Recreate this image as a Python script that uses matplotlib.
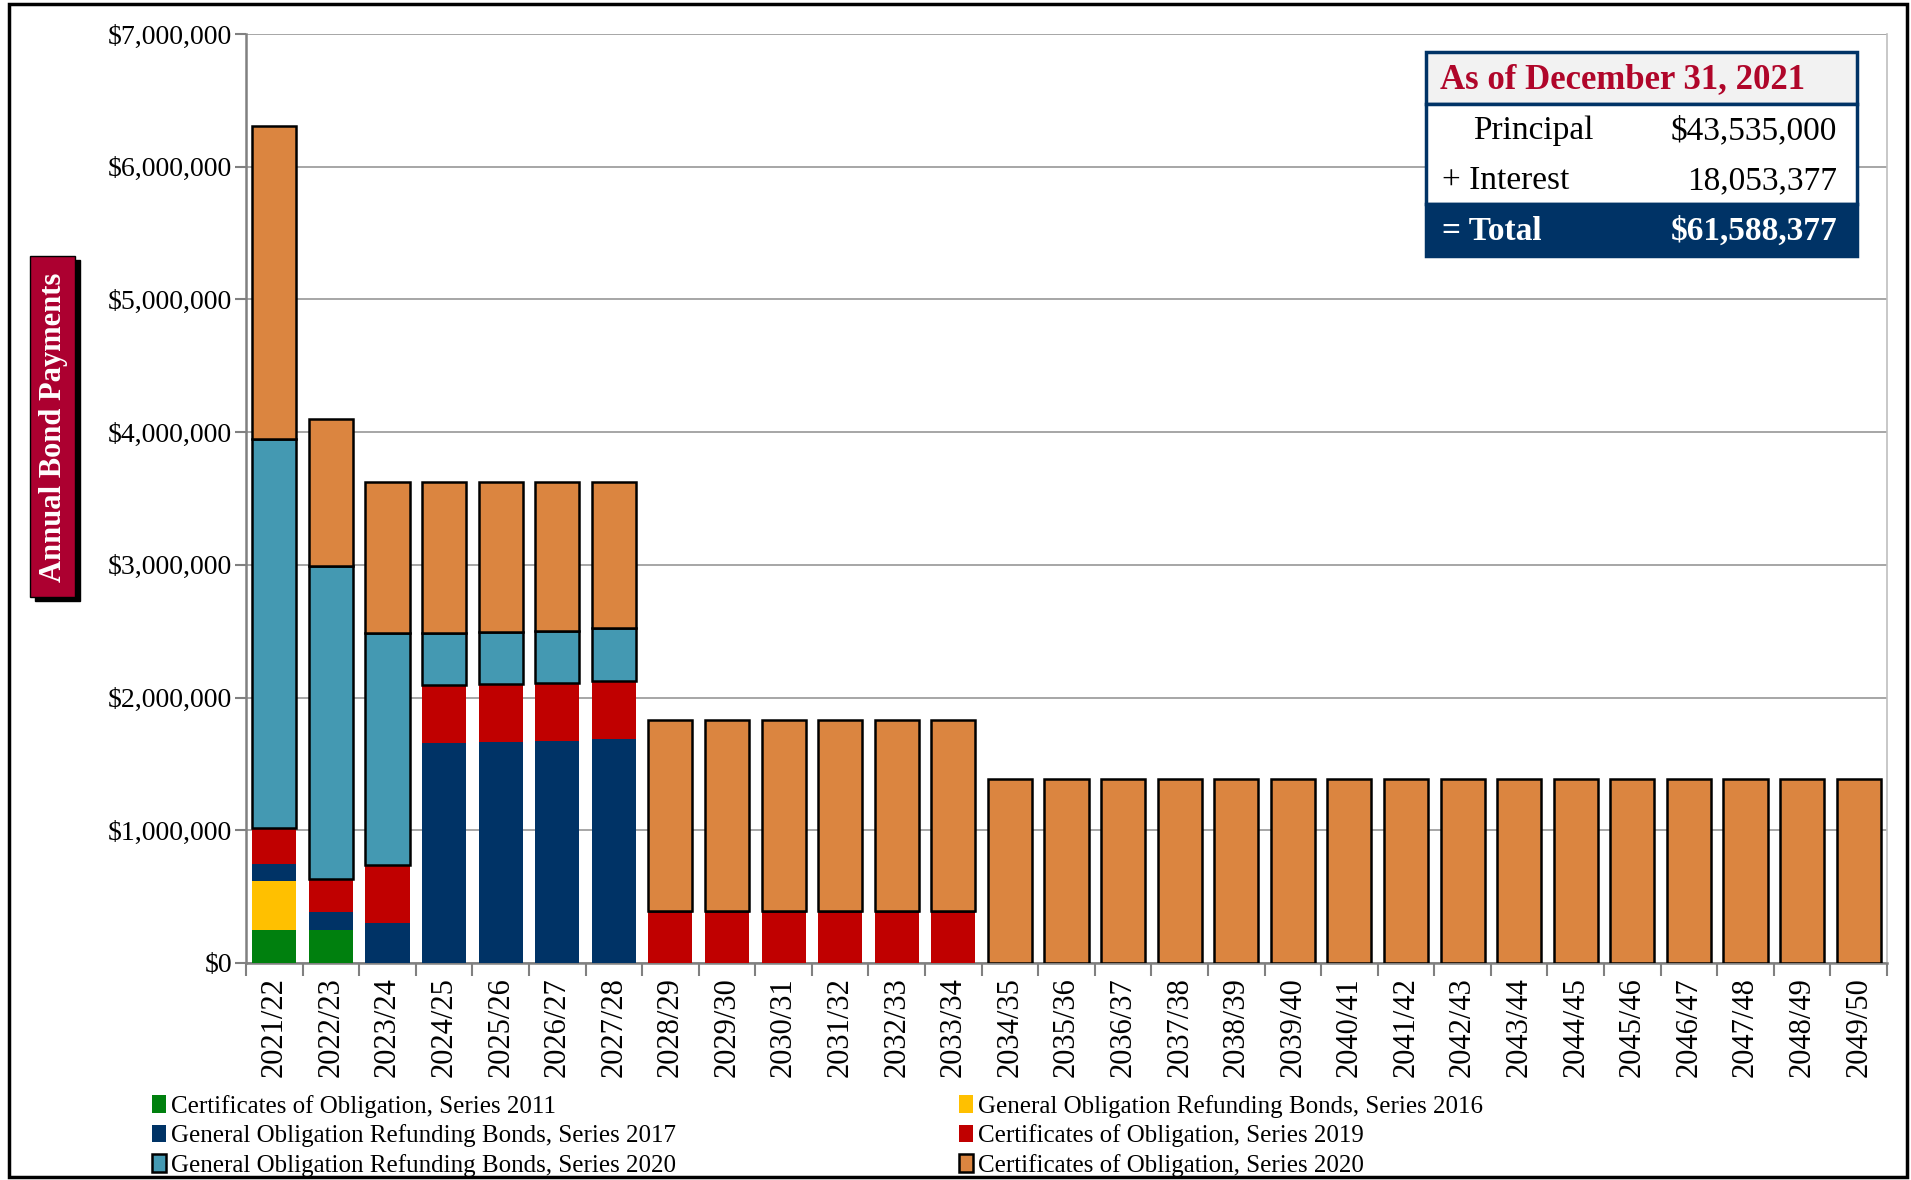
import matplotlib.pyplot as plt
from matplotlib.patches import Rectangle
from matplotlib.ticker import FuncFormatter, FixedLocator

plt.rcParams['font.family'] = ['Liberation Serif', 'DejaVu Serif']

# data (dollars)
years = [f"{y}/{str(y + 1)[-2:]}" for y in range(2021, 2050)]

co_2011 = [245000, 248000] + [0] * 27
go_2016 = [370000] + [0] * 28
go_2017 = [134000, 134000, 304000, 1654000, 1668000, 1676000, 1685000] + [0] * 22
co_2019 = [265000, 254000, 438000, 438000, 435000, 436000, 443000] + [395000] * 6 + [0] * 16
go_2020 = [2935000, 2354000, 1744000, 396000, 394000, 393000, 394000] + [0] * 22
co_2020 = [2355000, 1110000, 1138000, 1136000, 1127000, 1119000, 1102000] + [1435000] * 6 + [1385000] * 16

series = [
    ("Certificates of Obligation, Series 2011", co_2011, "#00800E", "none"),
    ("General Obligation Refunding Bonds, Series 2016", go_2016, "#FFC000", "none"),
    ("General Obligation Refunding Bonds, Series 2017", go_2017, "#003366", "none"),
    ("Certificates of Obligation, Series 2019", co_2019, "#C00000", "none"),
    ("General Obligation Refunding Bonds, Series 2020", go_2020, "#4499B2", "black"),
    ("Certificates of Obligation, Series 2020", co_2020, "#DB8540", "black"),
]

principal = "$43,535,000"
interest = "18,053,377"
total = "$61,588,377"

W, H = 1911, 1180
fig = plt.figure(figsize=(W / 100, H / 100), dpi=100)


def fx(px):
    return px / W


def fy(py):
    return 1 - py / H


ax = fig.add_axes([fx(246), fy(963), fx(1887) - fx(246), fy(34) - fy(963)])

x = range(len(years))
bottom = [0] * len(years)
handles = {}
for label, vals, color, edge in series:
    bars = ax.bar(x, vals, 0.78, bottom=bottom, color=color, edgecolor=edge,
                  linewidth=1.8 if edge != "none" else 0, zorder=3, label=label)
    handles[label] = bars
    bottom = [b + v for b, v in zip(bottom, vals)]

ax.set_xlim(-0.5, len(years) - 0.5)
ax.set_ylim(0, 7000000)
ax.set_yticks(range(0, 7000001, 1000000))
ax.yaxis.set_major_formatter(FuncFormatter(lambda v, p: f"${v:,.0f}"))
ax.set_xticks(list(x))
ax.set_xticklabels(years, rotation=90, fontsize=22)
ax.xaxis.set_minor_locator(FixedLocator([i - 0.5 for i in range(len(years) + 1)]))
ax.tick_params(axis='x', which='major', length=0, pad=10)
ax.tick_params(axis='x', which='minor', length=9, width=1.5, color="#808080", direction='out')
ax.tick_params(axis='y', length=8, width=1.5, color="#808080", labelsize=20, pad=2)
ax.grid(axis='y', color="#A6A6A6", linewidth=1.4, zorder=0)
for s in ["left", "bottom"]:
    ax.spines[s].set_color("#808080")
    ax.spines[s].set_linewidth(1.8)
ax.spines["top"].set_visible(False)
ax.spines["right"].set_color("#BFBFBF")
ax.spines["right"].set_linewidth(1.2)

# legends
labels = [s[0] for s in series]
col1 = [labels[0], labels[2], labels[4]]
col2 = [labels[1], labels[3], labels[5]]
for col, xpos in [(col1, 152), (col2, 959)]:
    fig.legend([handles[l] for l in col], col, loc='upper left',
               bbox_to_anchor=(fx(xpos), fy(1095)), frameon=False, fontsize=18,
               handlelength=0.55, handleheight=0.7, handletextpad=0.2,
               labelspacing=0.26, borderpad=0, borderaxespad=0)

# y label box with shadow
fig.patches.append(Rectangle((fx(35), fy(601)), fx(45), fy(0) - fy(341),
                             transform=fig.transFigure, color="black", zorder=1))
fig.patches.append(Rectangle((fx(30), fy(597)), fx(45), fy(0) - fy(341),
                             transform=fig.transFigure, facecolor="#AC0030",
                             edgecolor="black", linewidth=1, zorder=2))
fig.text(fx(53), fy(427), "Annual Bond Payments", rotation=90, color="white",
         fontsize=22, fontweight="bold", ha="center", va="center")

# summary box
navy = "#003366"
fig.patches.append(Rectangle((fx(1426), fy(104)), fx(431), fy(52) - fy(104),
                             transform=fig.transFigure, facecolor="#F2F2F2",
                             edgecolor=navy, linewidth=2.5))
fig.patches.append(Rectangle((fx(1426), fy(204)), fx(431), fy(104) - fy(204),
                             transform=fig.transFigure, facecolor="white",
                             edgecolor=navy, linewidth=2.5))
fig.patches.append(Rectangle((fx(1426), fy(256)), fx(431), fy(204) - fy(256),
                             transform=fig.transFigure, facecolor=navy,
                             edgecolor=navy, linewidth=2.5))
fig.text(fx(1440), fy(80), "As of December 31, 2021", color="#B0062A",
         fontsize=25, fontweight="bold", ha="left", va="center")
fig.text(fx(1473), fy(131), "Principal", fontsize=24, ha="left", va="center")
fig.text(fx(1837), fy(131), principal, fontsize=24, ha="right", va="center")
fig.text(fx(1442), fy(181), "+ Interest", fontsize=24, ha="left", va="center")
fig.text(fx(1837), fy(181), interest, fontsize=24, ha="right", va="center")
fig.text(fx(1442), fy(231), "= Total", fontsize=24, fontweight="bold",
         color="white", ha="left", va="center")
fig.text(fx(1837), fy(231), total, fontsize=24, fontweight="bold",
         color="white", ha="right", va="center")

# outer frame
fig.patches.append(Rectangle((fx(9), fy(1177)), fx(1907) - fx(9), fy(4) - fy(1177),
                             transform=fig.transFigure, fill=False,
                             edgecolor="black", linewidth=2.5, zorder=5))

fig.savefig("out.png", dpi=100)
